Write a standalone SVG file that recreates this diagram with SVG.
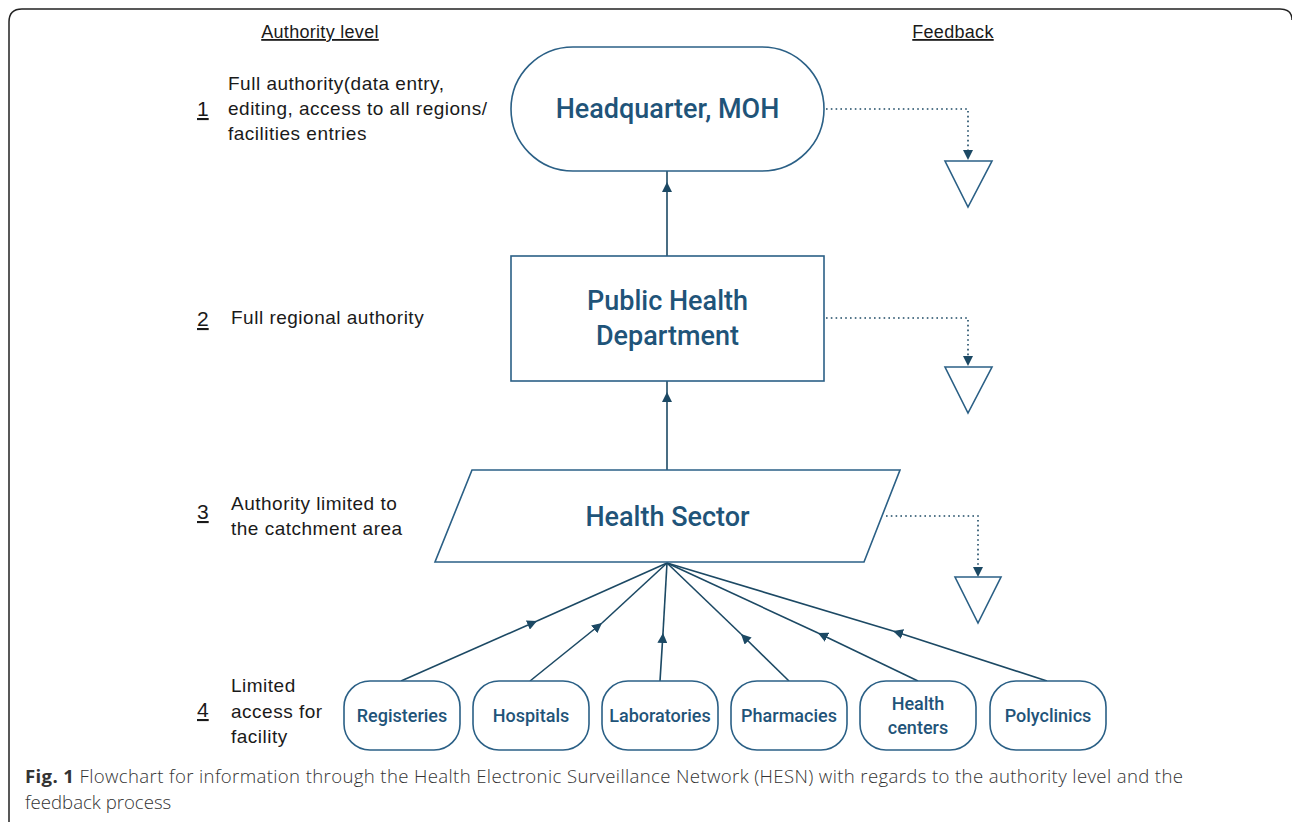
<svg xmlns="http://www.w3.org/2000/svg" width="1292" height="822" viewBox="0 0 1292 822">
  <style>
    .node { fill: #ffffff; stroke: #2b6086; stroke-width: 1.6; }
    .ntext { font-family: Roboto, "Liberation Sans", Arial, sans-serif; font-weight: 500; fill: #1f5479; text-anchor: middle; }
    .big { font-size: 27px; }
    .small { font-size: 18px; }
    .lbl { font-family: "Liberation Sans", Arial, sans-serif; font-size: 19px; letter-spacing: 0.5px; fill: #1a1a1a; }
    .num { font-family: "Liberation Sans", Arial, sans-serif; font-size: 21px; fill: #1a1a1a; text-decoration: underline; }
    .head { font-family: "Liberation Sans", Arial, sans-serif; font-size: 18px; letter-spacing: 0.3px; fill: #1a1a1a; text-decoration: underline; text-anchor: middle; }
    .link { fill: none; stroke: #1c4964; stroke-width: 1.6; }
    .fb { fill: none; stroke: #1c4964; stroke-width: 1.6; stroke-dasharray: 1.6 3.2; }
    .tri { fill: #ffffff; stroke: #2b6086; stroke-width: 1.6; }
    .cap { font-family: "Open Sans", "Noto Sans", sans-serif; font-size: 18.6px; font-weight: 300; fill: #333333; }
  </style>
  <defs>
    <marker id="arrow" viewBox="0 0 10 10" refX="10" refY="5" markerWidth="10" markerHeight="10" markerUnits="userSpaceOnUse" orient="auto">
      <path d="M0,0 L10,5 L0,10 Z" fill="#1c4964"/>
    </marker>
  </defs>

  <!-- frame -->
  <path d="M9,830 L9,22 Q9,9 22,9 L1280,9 Q1292,9 1292,20" fill="none" stroke="#222" stroke-width="1.5"/>

  <!-- column headings -->
  <text class="head" x="320" y="38">Authority level</text>
  <text class="head" x="953" y="38">Feedback</text>

  <!-- authority levels -->
  <g id="level-1">
    <text class="num" x="197" y="116">1</text>
    <text class="lbl" x="228" y="90">Full authority(data entry,</text>
    <text class="lbl" x="228" y="115">editing, access to all regions/</text>
    <text class="lbl" x="228" y="140">facilities entries</text>
  </g>
  <g id="level-2">
    <text class="num" x="197" y="326">2</text>
    <text class="lbl" x="231" y="324">Full regional authority</text>
  </g>
  <g id="level-3">
    <text class="num" x="197" y="519">3</text>
    <text class="lbl" x="231" y="510">Authority limited to</text>
    <text class="lbl" x="231" y="535">the catchment area</text>
  </g>
  <g id="level-4">
    <text class="num" x="197" y="717">4</text>
    <text class="lbl" x="231" y="692">Limited</text>
    <text class="lbl" x="231" y="718">access for</text>
    <text class="lbl" x="231" y="743">facility</text>
  </g>

  <!-- connectors -->
  <g id="connectors">
    <path class="link" d="M667,256 L667,182" marker-end="url(#arrow)"/>
    <line class="link" x1="667" y1="182" x2="667" y2="171"/>
    <path class="link" d="M667,470 L667,392" marker-end="url(#arrow)"/>
    <line class="link" x1="667" y1="392" x2="667" y2="381"/>

    <path class="link" d="M401,681 L537,621" marker-end="url(#arrow)"/>
    <line class="link" x1="537" y1="621" x2="667" y2="563"/>
    <path class="link" d="M530,681 L602,623" marker-end="url(#arrow)"/>
    <line class="link" x1="602" y1="623" x2="667" y2="563"/>
    <path class="link" d="M660,681 L663,633" marker-end="url(#arrow)"/>
    <line class="link" x1="663" y1="633" x2="667" y2="563"/>
    <path class="link" d="M789,681 L741,634" marker-end="url(#arrow)"/>
    <line class="link" x1="741" y1="634" x2="667" y2="563"/>
    <path class="link" d="M918,681 L818,633" marker-end="url(#arrow)"/>
    <line class="link" x1="818" y1="633" x2="667" y2="563"/>
    <path class="link" d="M1047,681 L893,631" marker-end="url(#arrow)"/>
    <line class="link" x1="893" y1="631" x2="667" y2="563"/>

    <!-- feedback paths -->
    <path class="fb" d="M826,109 L968,109 L968,152"/>
    <path d="M963,150 L973,150 L968,160 Z" fill="#1c4964"/>
    <path class="fb" d="M826,318 L968,318 L968,358"/>
    <path d="M963,356 L973,356 L968,366 Z" fill="#1c4964"/>
    <path class="fb" d="M886,516 L978,516 L978,569"/>
    <path d="M973,567 L983,567 L978,577 Z" fill="#1c4964"/>
  </g>

  <!-- feedback receivers -->
  <g id="feedback-1"><path class="tri" d="M945,161 L992,161 L968,207 Z"/></g>
  <g id="feedback-2"><path class="tri" d="M945,367 L992,367 L968,413 Z"/></g>
  <g id="feedback-3"><path class="tri" d="M955,577 L1001,577 L978,623 Z"/></g>

  <!-- main hierarchy -->
  <g id="headquarter">
    <rect class="node" x="511" y="47" width="313" height="124" rx="62" ry="62"/>
    <text class="ntext big" x="667.5" y="118">Headquarter, MOH</text>
  </g>
  <g id="public-health">
    <rect class="node" x="511" y="256" width="313" height="125"/>
    <text class="ntext big" x="667.5" y="310">Public Health</text>
    <text class="ntext big" x="667.5" y="345">Department</text>
  </g>
  <g id="health-sector">
    <path class="node" d="M472,470 L900,470 L864,562 L435,562 Z"/>
    <text class="ntext big" x="667.5" y="526">Health Sector</text>
  </g>

  <!-- facilities -->
  <g id="registeries">
    <rect class="node" x="344" y="681" width="116" height="69" rx="26"/>
    <text class="ntext small" x="402" y="722">Registeries</text>
  </g>
  <g id="hospitals">
    <rect class="node" x="473" y="681" width="116" height="69" rx="26"/>
    <text class="ntext small" x="531" y="722">Hospitals</text>
  </g>
  <g id="laboratories">
    <rect class="node" x="602" y="681" width="116" height="69" rx="26"/>
    <text class="ntext small" x="660" y="722">Laboratories</text>
  </g>
  <g id="pharmacies">
    <rect class="node" x="731" y="681" width="116" height="69" rx="26"/>
    <text class="ntext small" x="789" y="722">Pharmacies</text>
  </g>
  <g id="health-centers">
    <rect class="node" x="860" y="681" width="116" height="69" rx="26"/>
    <text class="ntext small" x="918" y="710">Health</text>
    <text class="ntext small" x="918" y="734">centers</text>
  </g>
  <g id="polyclinics">
    <rect class="node" x="990" y="681" width="116" height="69" rx="26"/>
    <text class="ntext small" x="1048" y="722">Polyclinics</text>
  </g>

  <!-- caption -->
  <text class="cap" x="25" y="783" textLength="1158" lengthAdjust="spacing"><tspan font-weight="bold">Fig. 1</tspan> Flowchart for information through the Health Electronic Surveillance Network (HESN) with regards to the authority level and the</text>
  <text class="cap" x="25" y="809">feedback process</text>
</svg>
